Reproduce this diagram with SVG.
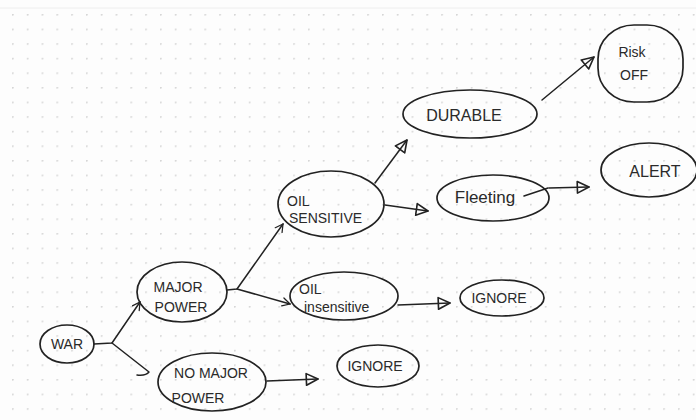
<svg xmlns="http://www.w3.org/2000/svg" width="696" height="420" viewBox="0 0 696 420">
<defs>
<pattern id="dots" x="12" y="14" width="14.8" height="14.6" patternUnits="userSpaceOnUse">
<circle cx="0.8" cy="0.8" r="1" fill="#d6d6d6"/>
</pattern>
<marker id="tri" viewBox="0 0 12 12" refX="11" refY="6" markerWidth="14" markerHeight="14" markerUnits="userSpaceOnUse" orient="auto">
<path d="M1,1 L11,6 L1,11 Z" fill="none" stroke="#222" stroke-width="1.4" stroke-linejoin="round"/>
</marker>
<marker id="vee" viewBox="0 0 12 12" refX="11" refY="6" markerWidth="10" markerHeight="10" markerUnits="userSpaceOnUse" orient="auto">
<path d="M2,1 L11,6 L2,11" fill="none" stroke="#222" stroke-width="1.5" stroke-linecap="round"/>
</marker>
</defs>
<style>
.n{fill:none;stroke:#222;stroke-width:1.7}
.c{fill:none;stroke:#222;stroke-width:1.5;stroke-linecap:round;stroke-linejoin:round}
.t{font-family:"Liberation Sans","DejaVu Sans",sans-serif;font-size:14px;fill:#2a2a2a;text-anchor:middle}
.l{text-anchor:start}
</style>
<rect width="696" height="420" fill="#fdfdfd"/>
<rect x="0" y="8" width="696" height="412" fill="url(#dots)"/>
<line x1="0" y1="8" x2="696" y2="8" stroke="#eeeeee" stroke-width="1"/>

<g id="connectors">
<path class="c" d="M94,344 L112,343 L140,302" marker-end="url(#vee)"/>
<path class="c" d="M112,343 L149,372 Q146,376 137,375"/>
<path class="c" d="M227,290 L237,289 L283,224" marker-end="url(#vee)"/>
<path class="c" d="M237,289 L290,304" marker-end="url(#vee)"/>
<path class="c" d="M267,381 L318,379" marker-end="url(#tri)"/>
<path class="c" d="M375,183 L407,140" marker-end="url(#tri)"/>
<path class="c" d="M385,205 L428,211" marker-end="url(#tri)"/>
<path class="c" d="M398,305 L450,303" marker-end="url(#tri)"/>
<path class="c" d="M549,188 L589,187" marker-end="url(#tri)"/>
<path class="c" d="M542,100 L594,57" marker-end="url(#tri)"/>
</g>

<g id="war">
<ellipse class="n" cx="67" cy="344" rx="27" ry="19"/>
<text class="t" x="67" y="349">WAR</text>
</g>
<g id="major-power">
<ellipse class="n" cx="182" cy="292" rx="45" ry="30"/>
<text class="t" x="178" y="292">MAJOR</text>
<text class="t" x="181" y="312">POWER</text>
</g>
<g id="no-major-power">
<ellipse class="n" cx="212" cy="382" rx="54" ry="29"/>
<text class="t" x="211" y="378">NO MAJOR</text>
<text class="t" x="198" y="403">POWER</text>
</g>
<g id="ignore-1">
<ellipse class="n" cx="378" cy="366" rx="41" ry="21"/>
<text class="t" x="375" y="371">IGNORE</text>
</g>
<g id="oil-sensitive">
<ellipse class="n" cx="331" cy="204" rx="53" ry="33"/>
<text class="t l" x="287" y="206">OIL</text>
<text class="t l" x="289" y="223">SENSITIVE</text>
</g>
<g id="oil-insensitive">
<ellipse class="n" cx="344" cy="296" rx="54" ry="24"/>
<text class="t l" x="299" y="294">OIL</text>
<text class="t l" x="304" y="312">insensitive</text>
</g>
<g id="ignore-2">
<ellipse class="n" cx="502" cy="298" rx="42" ry="18"/>
<text class="t" x="499" y="303">IGNORE</text>
</g>
<g id="fleeting">
<ellipse class="n" cx="493" cy="198" rx="56" ry="23"/>
<text class="t" x="485" y="203" style="font-size:17px">Fleeting</text>
<path class="c" d="M524,196 L548,188"/>
</g>
<g id="durable">
<ellipse class="n" cx="470" cy="114" rx="67" ry="24"/>
<text class="t" x="464" y="121" style="font-size:16px">DURABLE</text>
</g>
<g id="risk-off">
<rect class="n" x="598" y="25" width="85" height="77" rx="36" ry="34"/>
<text class="t" x="632" y="57">Risk</text>
<text class="t" x="634" y="80">OFF</text>
</g>
<g id="alert">
<ellipse class="n" cx="649" cy="170" rx="48" ry="27"/>
<text class="t" x="655" y="177" style="font-size:16px">ALERT</text>
</g>
</svg>
